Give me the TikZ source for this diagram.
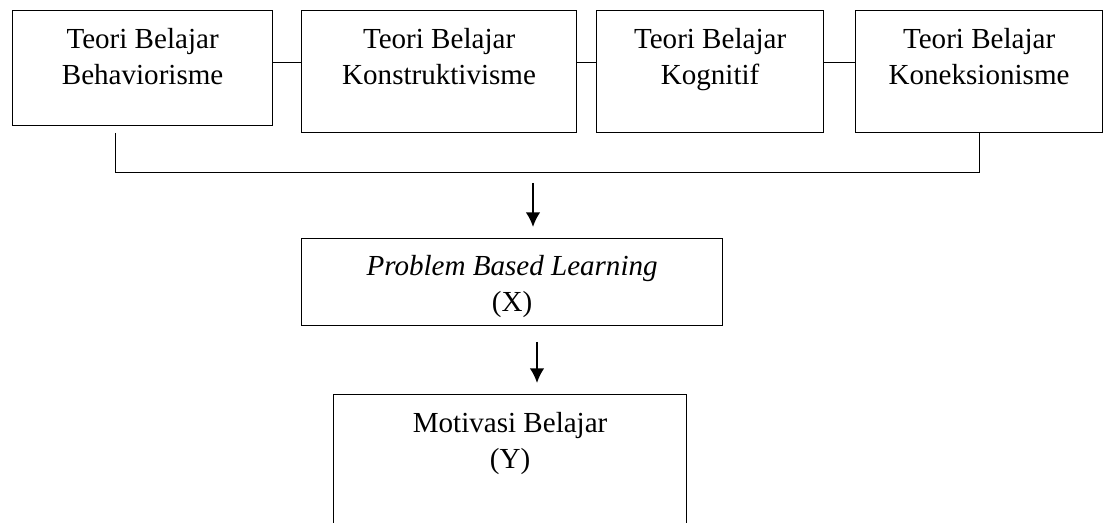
\documentclass[tikz,border=0pt]{standalone}
\usepackage{fontspec}
\setmainfont{Liberation Serif}
\usetikzlibrary{arrows.meta,calc,positioning}
\newcommand{\pxunit}{0.75pt}
\tikzset{
    boxsty/.style={draw,line width=0.9pt,rectangle,inner sep=0pt,anchor=north west},
    txtsty/.style={align=center,inner sep=0pt,anchor=north,font=\fontsize{21.8}{26.7}\selectfont},
    linksty/.style={line width=0.75pt},
    arrsty/.style={line width=1.5pt,-{Latex[length=11pt,width=11pt]}},
}

\begin{document}
\begin{tikzpicture}[x=\pxunit,y=-\pxunit]
\path[use as bounding box] (0,0) rectangle (1116,523);
\clip (0,0) rectangle (1116,523);

% teori belajar
\node[boxsty,minimum width=260*\pxunit,minimum height=115*\pxunit] (beh) at (12,10) {};
\node[boxsty,minimum width=275*\pxunit,minimum height=122*\pxunit] (kon) at (301,10) {};
\node[boxsty,minimum width=227*\pxunit,minimum height=122*\pxunit] (kog) at (596,10) {};
\node[boxsty,minimum width=247*\pxunit,minimum height=122*\pxunit] (kne) at (855,10) {};

\node[txtsty,below=13.5pt of beh.north] (behT) {Teori Belajar\\Behaviorisme};
\node[txtsty,below=13.5pt of kon.north] (konT) {Teori Belajar\\Konstruktivisme};
\node[txtsty,below=13.5pt of kog.north] (kogT) {Teori Belajar\\Kognitif};
\node[txtsty,below=13.5pt of kne.north] (kneT) {Teori Belajar\\Koneksionisme};

% variabel
\node[boxsty,minimum width=421*\pxunit,minimum height=87*\pxunit] (pbl) at (301,238) {};
\node[txtsty,below=13pt of pbl.north] (pblT) {\textit{Problem Based Learning}\\(X)};
\node[boxsty,minimum width=353*\pxunit,minimum height=160*\pxunit] (mot) at (333,394) {};
\node[txtsty,below=13.5pt of mot.north] (motT) {Motivasi Belajar\\(Y)};

\coordinate (hl) at (0,63);
\draw[linksty] (beh.east |- hl) -- (kon.west |- hl);
\draw[linksty] (kon.east |- hl) -- (kog.west |- hl);
\draw[linksty] (kog.east |- hl) -- (kne.west |- hl);

\coordinate (bl) at (115,133);
\coordinate (jn) at (0,173);
\draw[linksty] (bl) |- (jn -| kne.south) -- (kne.south);

\coordinate (a1s) at (533,183);
\coordinate (a1e) at (533,227);
\coordinate (a2s) at (537,342);
\coordinate (a2e) at (537,383);
\draw[arrsty] (a1s) -- (a1e);
\draw[arrsty] (a2s) -- (a2e);

\end{tikzpicture}
\end{document}
